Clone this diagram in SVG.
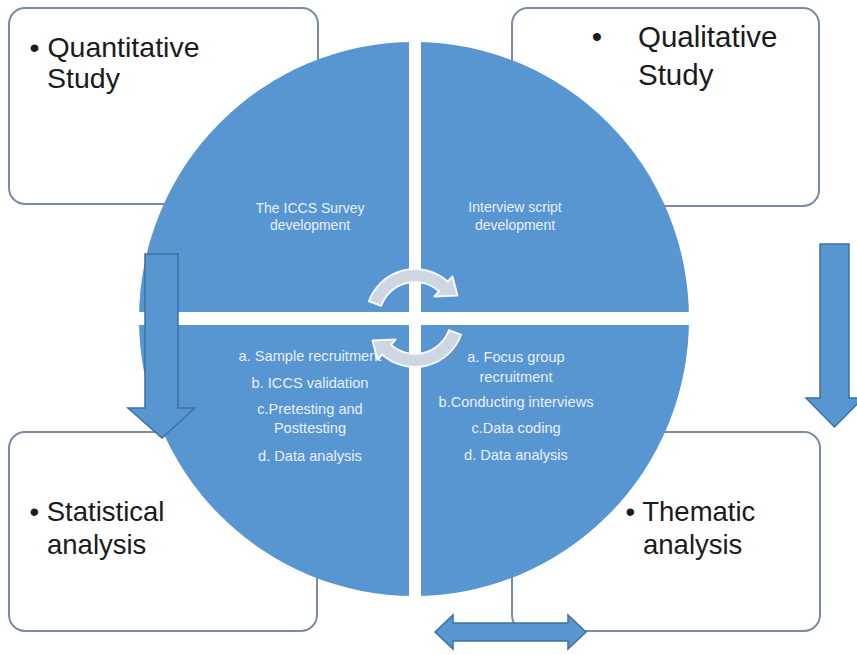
<svg xmlns="http://www.w3.org/2000/svg" width="857" height="655" viewBox="0 0 857 655">
  <style>
    .box { fill: #ffffff; stroke: #7a8ba3; stroke-width: 2; }
    .big { font-family: "Liberation Sans", Arial, sans-serif; fill: #1b1b1b; }
    .small { font-family: "Liberation Sans", Arial, sans-serif; font-size: 14px; fill: #e9f0f8; text-anchor: middle; }
    .lower { font-size: 14.6px; }
    .quad { fill: #5896d2; }
    .gap { fill: #ffffff; }
    .blk { fill: #5896d2; stroke: #3f6f9e; stroke-width: 1.5; stroke-linejoin: miter; }
    .cyc { fill: #cdd6e1; stroke: #f5f8fb; stroke-width: 2; stroke-linejoin: round; }
  </style>
  <rect width="857" height="655" fill="#ffffff"/>

  <g id="box-quantitative">
    <rect class="box" x="9" y="8" width="309" height="196" rx="16"/>
    <text class="big" x="29.5" y="57" font-size="28.5">• Quantitative</text>
    <text class="big" x="47" y="88" font-size="28.5">Study</text>
  </g>
  <g id="box-qualitative">
    <rect class="box" x="512" y="8" width="307" height="198" rx="16"/>
    <text class="big" x="597" y="47" font-size="29.5" text-anchor="middle">•</text>
    <text class="big" x="638" y="47" font-size="29.5">Qualitative</text>
    <text class="big" x="638" y="85" font-size="29.5">Study</text>
  </g>
  <g id="box-statistical">
    <rect class="box" x="9" y="432" width="308" height="199" rx="16"/>
    <text class="big" x="29.5" y="521" font-size="27.5">• Statistical</text>
    <text class="big" x="47" y="554" font-size="27.5">analysis</text>
  </g>
  <g id="box-thematic">
    <rect class="box" x="512" y="432" width="308" height="199" rx="16"/>
    <text class="big" x="625.5" y="521" font-size="27.5">• Thematic</text>
    <text class="big" x="643" y="554" font-size="27.5">analysis</text>
  </g>

  <g id="cycle">
    <ellipse class="quad" cx="414" cy="319" rx="275" ry="277"/>
    <rect class="gap" x="409" y="38" width="12" height="564"/>
    <rect class="gap" x="134" y="312" width="562" height="13"/>
  </g>

  <g id="q-survey">
    <text class="small" x="310" y="213">The ICCS Survey</text>
    <text class="small" x="310" y="230">development</text>
  </g>
  <g id="q-interview">
    <text class="small" x="515" y="212">Interview script</text>
    <text class="small" x="515" y="230">development</text>
  </g>
  <g id="q-quant-steps">
    <text class="small lower" x="310" y="361">a. Sample recruitment</text>
    <text class="small lower" x="310" y="388">b. ICCS validation</text>
    <text class="small lower" x="310" y="414">c.Pretesting and</text>
    <text class="small lower" x="310" y="433">Posttesting</text>
    <text class="small lower" x="310" y="461">d. Data analysis</text>
  </g>
  <g id="q-qual-steps">
    <text class="small lower" x="516" y="362">a. Focus group</text>
    <text class="small lower" x="516" y="382">recruitment</text>
    <text class="small lower" x="516" y="407">b.Conducting interviews</text>
    <text class="small lower" x="516" y="433">c.Data coding</text>
    <text class="small lower" x="516" y="460">d. Data analysis</text>
  </g>

  <g id="connectors">
    <path class="cyc" d="M368.96,301.24 A49,49 0 0 1 447.79,281.59 L452.47,276.39 L457.4,295.5 L434.40,296.45 L439.09,291.25 A36,36 0 0 0 381.17,305.69 Z"/>
    <path class="cyc" d="M461.04,334.76 A49,49 0 0 1 382.21,354.41 L377.53,359.61 L372.6,340.5 L395.60,339.55 L390.91,344.75 A36,36 0 0 0 448.83,330.31 Z"/>
    <polygon class="blk" points="145,254 178,254 178,408 195,408 162,438 128,408 145,408"/>
    <polygon class="blk" points="820,244 849,244 849,398 863,398 834.5,427 806,398 820,398"/>
    <polygon class="blk" points="435,632 453,615 453,623 568,623 568,615 586,632 568,649 568,641 453,641 453,649"/>
  </g>
</svg>
